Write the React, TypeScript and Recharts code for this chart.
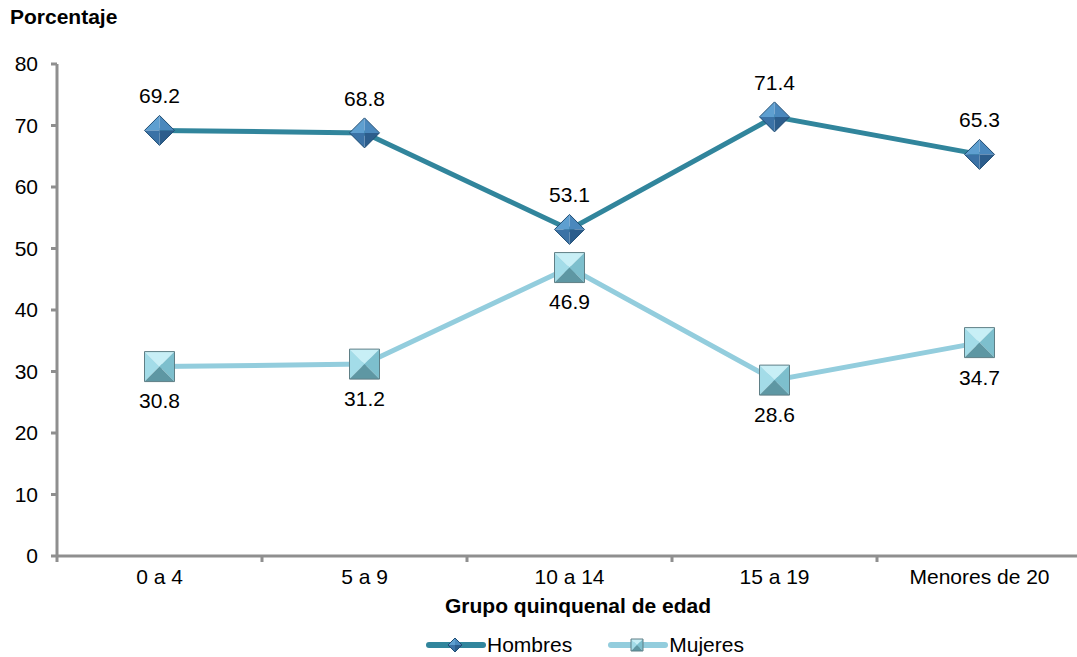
import { LineChart, Line, XAxis, YAxis, LabelList } from 'recharts';

const categories = ['0 a 4', '5 a 9', '10 a 14', '15 a 19', 'Menores de 20'];
const hombres = [69.2, 68.8, 53.1, 71.4, 65.3];
const mujeres = [30.8, 31.2, 46.9, 28.6, 34.7];
const yTicks = [0, 10, 20, 30, 40, 50, 60, 70, 80];

const HOMBRES_COLOR = '#31859c';
const MUJERES_COLOR = '#93cddd';
const AXIS_COLOR = '#8f8f8f';
const FONT = '"Liberation Sans", Arial, sans-serif';
const FS = 21;

const CHART_W = 1085;
const Y_AXIS_W = 57;
const MARGIN = { top: 64, right: 3, bottom: 71, left: 0 };
// each age group occupies a band, the tick marks sit between bands
const BAND = (CHART_W - Y_AXIS_W - MARGIN.left - MARGIN.right) / categories.length;

const chartData = categories.map((c, i) => ({
  grupo: c,
  Hombres: hombres[i],
  Mujeres: mujeres[i],
}));

// diamond marker drawn as 4 facets so it looks like the bevelled excel marker
function Diamond({ cx, cy, r = 15 }: { cx: number; cy: number; r?: number }) {
  const t = `${cx},${cy - r}`;
  const rt = `${cx + r},${cy}`;
  const b = `${cx},${cy + r}`;
  const l = `${cx - r},${cy}`;
  const c = `${cx},${cy}`;
  return (
    <g>
      <polygon points={`${c} ${l} ${t}`} fill="#5e9fd0" />
      <polygon points={`${c} ${t} ${rt}`} fill="#4a88bd" />
      <polygon points={`${c} ${rt} ${b}`} fill="#2c5d8c" />
      <polygon points={`${c} ${b} ${l}`} fill="#3b72a6" />
      <polygon points={`${t} ${rt} ${b} ${l}`} fill="none" stroke="#1f4d74" strokeWidth={1} />
    </g>
  );
}

function Square({ cx, cy, r = 15 }: { cx: number; cy: number; r?: number }) {
  const tl = `${cx - r},${cy - r}`;
  const tr = `${cx + r},${cy - r}`;
  const br = `${cx + r},${cy + r}`;
  const bl = `${cx - r},${cy + r}`;
  const c = `${cx},${cy}`;
  return (
    <g>
      <polygon points={`${c} ${tl} ${tr}`} fill="#c8eff6" />
      <polygon points={`${c} ${tl} ${bl}`} fill="#a3dce8" />
      <polygon points={`${c} ${tr} ${br}`} fill="#7dbfcd" />
      <polygon points={`${c} ${bl} ${br}`} fill="#5e97a3" />
      <polygon points={`${tl} ${tr} ${br} ${bl}`} fill="none" stroke="#5f7f86" strokeWidth={1} />
    </g>
  );
}

function XTick({ x, y, payload, index }: any) {
  const last = index === categories.length - 1;
  return (
    <g>
      <line x1={x - BAND / 2} y1={y} x2={x - BAND / 2} y2={y + 6} stroke={AXIS_COLOR} strokeWidth={3} />
      {last && <line x1={x + BAND / 2} y1={y} x2={x + BAND / 2} y2={y + 6} stroke={AXIS_COLOR} strokeWidth={3} />}
      <text x={x} y={y + 28} textAnchor="middle" fill="#000" fontSize={FS} fontFamily={FONT}>
        {payload.value}
      </text>
    </g>
  );
}

function LegendItem({ name, color, marker }: { name: string; color: string; marker: 'd' | 's' }) {
  return (
    <div style={{ display: 'flex', alignItems: 'center' }}>
      <svg width={60} height={16}>
        <line x1={3} y1={8} x2={57} y2={8} stroke={color} strokeWidth={6} strokeLinecap="round" />
        {marker === 'd' ? <Diamond cx={29} cy={8} r={7} /> : <Square cx={29} cy={8} r={6} />}
      </svg>
      <span style={{ fontSize: FS, marginLeft: 1 }}>{name}</span>
    </div>
  );
}

export default function App() {
  return (
    <div style={{ position: 'absolute', left: 0, top: 0, width: 1077, height: 657, overflow: 'hidden', background: '#fff', fontFamily: FONT, color: '#000' }}>
      <div style={{ position: 'absolute', left: 10, top: 5, fontSize: FS, fontWeight: 'bold' }}>Porcentaje</div>
      <div style={{ position: 'absolute', left: 0, width: 1156, top: 594, textAlign: 'center', fontSize: FS, fontWeight: 'bold' }}>
        Grupo quinquenal de edad
      </div>
      <div style={{ position: 'absolute', left: 426, top: 633, display: 'flex', gap: 36 }}>
        <LegendItem name="Hombres" color={HOMBRES_COLOR} marker="d" />
        <LegendItem name="Mujeres" color={MUJERES_COLOR} marker="s" />
      </div>
      <LineChart width={CHART_W} height={657} data={chartData} margin={MARGIN}>
        <XAxis
          dataKey="grupo"
          stroke={AXIS_COLOR}
          strokeWidth={3}
          tickLine={false}
          tickSize={0}
          tickMargin={0}
          tick={<XTick />}
          height={30}
          interval={0}
          padding={{ left: BAND / 2, right: BAND / 2 }}
        />
        <YAxis
          domain={[0, 80]}
          ticks={yTicks}
          width={Y_AXIS_W}
          stroke={AXIS_COLOR}
          strokeWidth={3}
          tickSize={6}
          tickMargin={13}
          tick={{ fill: '#000', fontSize: FS, fontFamily: FONT }}
          interval={0}
        />
        <Line
          dataKey="Hombres"
          stroke={HOMBRES_COLOR}
          strokeWidth={5}
          isAnimationActive={false}
          dot={(p: any) => <Diamond key={p.index} cx={p.cx} cy={p.cy} />}
          activeDot={false}
        >
          <LabelList dataKey="Hombres" position="top" offset={27} fill="#000" fontSize={FS} fontFamily={FONT} formatter={(v: any) => Number(v).toFixed(1)} />
        </Line>
        <Line
          dataKey="Mujeres"
          stroke={MUJERES_COLOR}
          strokeWidth={5}
          isAnimationActive={false}
          dot={(p: any) => <Square key={p.index} cx={p.cx} cy={p.cy} />}
          activeDot={false}
        >
          <LabelList dataKey="Mujeres" position="bottom" offset={27} fill="#000" fontSize={FS} fontFamily={FONT} formatter={(v: any) => Number(v).toFixed(1)} />
        </Line>
      </LineChart>
    </div>
  );
}
